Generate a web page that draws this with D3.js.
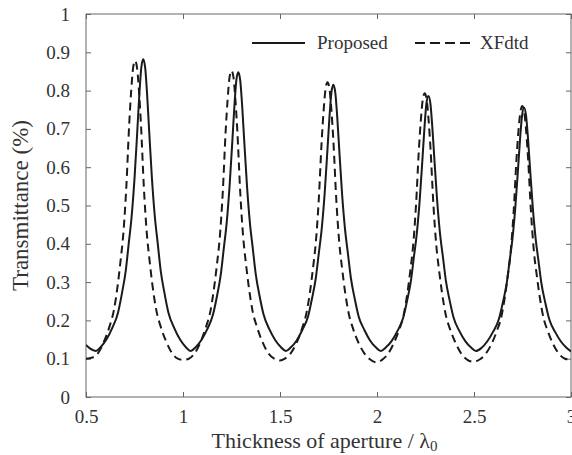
<!DOCTYPE html>
<html>
<head>
<meta charset="utf-8">
<script src="https://cdn.jsdelivr.net/npm/d3@7"></script>
<style>
  html, body { margin: 0; padding: 0; background: #fff; }
  svg { display: block; }
  text { font-family: "Liberation Serif", "DejaVu Serif", serif; fill: #333; }
</style>
</head>
<body>
<div id="chart"></div>
<script>
const xTicks = [0.5, 1, 1.5, 2, 2.5, 3];
const xTickLabels = ["0.5", "1", "1.5", "2", "2.5", "3"];
const yTicks = [0, 0.1, 0.2, 0.3, 0.4, 0.5, 0.6, 0.7, 0.8, 0.9, 1];
const yTickLabels = ["0", "0.1", "0.2", "0.3", "0.4", "0.5", "0.6", "0.7", "0.8", "0.9", "1"];
const seriesNames = ["Proposed", "XFdtd"];

const proposed = [
  [0.50,0.136],[0.52,0.127],[0.55,0.120],
  [0.575,0.130],[0.605,0.150],[0.635,0.180],[0.665,0.220],[0.685,0.270],[0.705,0.330],[0.720,0.400],[0.735,0.470],[0.750,0.570],[0.765,0.700],[0.775,0.790],[0.785,0.860],[0.795,0.882],
  [0.805,0.860],[0.815,0.790],[0.825,0.700],[0.840,0.570],[0.855,0.470],[0.870,0.400],[0.885,0.330],[0.905,0.270],[0.925,0.220],[0.955,0.180],[0.985,0.150],[1.015,0.130],[1.040,0.120],
  [1.065,0.130],[1.095,0.149],[1.125,0.177],[1.155,0.216],[1.175,0.263],[1.195,0.321],[1.210,0.387],[1.225,0.454],[1.240,0.550],[1.255,0.674],[1.265,0.760],[1.275,0.827],[1.285,0.848],
  [1.295,0.827],[1.305,0.760],[1.315,0.674],[1.330,0.550],[1.345,0.454],[1.360,0.387],[1.375,0.321],[1.395,0.263],[1.415,0.216],[1.445,0.177],[1.475,0.149],[1.505,0.130],[1.530,0.120],
  [1.555,0.129],[1.585,0.147],[1.615,0.175],[1.645,0.211],[1.665,0.257],[1.685,0.312],[1.700,0.375],[1.715,0.439],[1.730,0.530],[1.745,0.649],[1.755,0.731],[1.765,0.795],[1.775,0.815],
  [1.785,0.795],[1.795,0.731],[1.805,0.649],[1.820,0.530],[1.835,0.439],[1.850,0.375],[1.865,0.312],[1.885,0.257],[1.905,0.211],[1.935,0.175],[1.965,0.147],[1.995,0.129],[2.020,0.120],
  [2.045,0.129],[2.075,0.146],[2.105,0.172],[2.135,0.207],[2.155,0.251],[2.175,0.304],[2.190,0.365],[2.205,0.426],[2.220,0.513],[2.235,0.627],[2.245,0.706],[2.255,0.767],[2.265,0.786],
  [2.275,0.767],[2.285,0.706],[2.295,0.627],[2.310,0.513],[2.325,0.426],[2.340,0.365],[2.355,0.304],[2.375,0.251],[2.395,0.207],[2.425,0.172],[2.455,0.146],[2.485,0.129],[2.510,0.120],
  [2.538,0.128],[2.568,0.145],[2.598,0.170],[2.628,0.203],[2.648,0.245],[2.668,0.295],[2.683,0.353],[2.698,0.412],[2.713,0.495],[2.728,0.603],[2.738,0.678],[2.748,0.736],[2.758,0.755],
  [2.768,0.736],[2.778,0.678],[2.788,0.603],[2.803,0.495],[2.818,0.412],[2.833,0.353],[2.848,0.295],[2.868,0.245],[2.888,0.203],[2.918,0.170],[2.948,0.145],[2.978,0.128],[3.000,0.119]
];

const xfdtd = [
  [0.500,0.100],[0.533,0.103],[0.563,0.115],[0.593,0.145],[0.623,0.187],[0.643,0.225],[0.663,0.290],[0.678,0.355],[0.693,0.430],[0.708,0.550],[0.723,0.715],[0.733,0.800],[0.743,0.860],[0.753,0.878],
  [0.763,0.860],[0.773,0.800],[0.783,0.715],[0.798,0.550],[0.813,0.430],[0.828,0.355],[0.843,0.290],[0.863,0.225],[0.883,0.187],[0.913,0.145],[0.943,0.115],[0.973,0.100],[0.998,0.097],
  [1.030,0.100],[1.060,0.114],[1.090,0.143],[1.120,0.185],[1.140,0.221],[1.160,0.284],[1.175,0.346],[1.190,0.419],[1.205,0.535],[1.220,0.695],[1.230,0.777],[1.240,0.835],[1.250,0.852],
  [1.260,0.835],[1.270,0.777],[1.280,0.695],[1.295,0.535],[1.310,0.419],[1.325,0.346],[1.340,0.284],[1.360,0.221],[1.380,0.185],[1.410,0.143],[1.440,0.114],[1.470,0.100],[1.500,0.095],
  [1.525,0.100],[1.555,0.114],[1.585,0.141],[1.615,0.181],[1.635,0.216],[1.655,0.276],[1.670,0.336],[1.685,0.406],[1.700,0.517],[1.715,0.670],[1.725,0.749],[1.735,0.805],[1.745,0.822],
  [1.755,0.805],[1.765,0.749],[1.775,0.670],[1.790,0.517],[1.805,0.406],[1.820,0.336],[1.835,0.276],[1.855,0.216],[1.875,0.181],[1.905,0.141],[1.935,0.114],[1.965,0.098],[2.000,0.090],
  [2.026,0.097],[2.056,0.112],[2.086,0.140],[2.116,0.178],[2.136,0.211],[2.156,0.269],[2.171,0.327],[2.186,0.394],[2.201,0.500],[2.216,0.647],[2.226,0.723],[2.236,0.777],[2.246,0.793],
  [2.256,0.777],[2.266,0.723],[2.276,0.647],[2.291,0.500],[2.306,0.394],[2.321,0.327],[2.336,0.269],[2.356,0.211],[2.376,0.178],[2.406,0.140],[2.436,0.112],[2.466,0.097],[2.497,0.092],
  [2.529,0.098],[2.559,0.112],[2.589,0.137],[2.619,0.174],[2.639,0.205],[2.659,0.261],[2.674,0.316],[2.689,0.379],[2.704,0.481],[2.719,0.621],[2.729,0.694],[2.739,0.744],[2.749,0.760],
  [2.759,0.744],[2.769,0.694],[2.779,0.621],[2.794,0.481],[2.809,0.379],[2.824,0.316],[2.839,0.261],[2.859,0.205],[2.879,0.174],[2.909,0.137],[2.939,0.112],[2.969,0.100],[3.000,0.097]
];

const W = 572, H = 455;
const m = { left: 86, right: 1, top: 14, bottom: 58 };
const svg = d3.select("#chart").append("svg").attr("width", W).attr("height", H);

const x = d3.scaleLinear().domain([0.5, 3]).range([m.left, W - m.right]);
const y = d3.scaleLinear().domain([0, 1]).range([H - m.bottom, m.top]);

const axisColor = "#666";
const tickLen = 5;

// frame
svg.append("rect")
  .attr("x", x(0.5)).attr("y", y(1))
  .attr("width", x(3) - x(0.5)).attr("height", y(0) - y(1))
  .attr("fill", "none").attr("stroke", axisColor).attr("stroke-width", 1);

// axes via d3 axis generators (inward ticks)
const xAxisB = d3.axisBottom(x).tickValues(xTicks).tickSize(-tickLen).tickPadding(13)
  .tickFormat((d, i) => xTickLabels[i]);
const gx = svg.append("g").attr("transform", `translate(0,${y(0)})`).call(xAxisB);
const xAxisT = d3.axisTop(x).tickValues(xTicks).tickSize(-tickLen).tickFormat("");
const gxt = svg.append("g").attr("transform", `translate(0,${y(1)})`).call(xAxisT);
const yAxisL = d3.axisLeft(y).tickValues(yTicks).tickSize(-tickLen).tickPadding(16)
  .tickFormat((d, i) => yTickLabels[i]);
const gy = svg.append("g").attr("transform", `translate(${x(0.5)},0)`).call(yAxisL);
const yAxisR = d3.axisRight(y).tickValues(yTicks).tickSize(-tickLen).tickFormat("");
const gyr = svg.append("g").attr("transform", `translate(${x(3)},0)`).call(yAxisR);

[gx, gxt, gy, gyr].forEach(g => {
  g.attr("font-family", null).attr("font-size", null);
  g.select(".domain").remove();
  g.selectAll(".tick line").attr("stroke", axisColor);
  g.selectAll(".tick text")
    .style("font-family", "'Liberation Serif', 'DejaVu Serif', serif")
    .attr("font-size", 19).attr("fill", "#333");
});

// clip
svg.append("clipPath").attr("id", "plotclip").append("rect")
  .attr("x", x(0.5)).attr("y", y(1)).attr("width", x(3) - x(0.5)).attr("height", y(0) - y(1));

const line = d3.line().x(d => x(d[0])).y(d => y(d[1])).curve(d3.curveMonotoneX);

const plot = svg.append("g").attr("clip-path", "url(#plotclip)");
plot.append("path").datum(xfdtd).attr("d", line)
  .attr("fill", "none").attr("stroke", "#1a1a1a").attr("stroke-width", 2)
  .attr("stroke-dasharray", "8,5");
plot.append("path").datum(proposed).attr("d", line)
  .attr("fill", "none").attr("stroke", "#1a1a1a").attr("stroke-width", 2);

// axis titles
svg.append("text")
  .attr("x", (x(0.5) + x(3)) / 2 - 4).attr("y", 448)
  .attr("text-anchor", "middle").attr("font-size", 22)
  .html('Thickness of aperture / λ<tspan font-size="15" dy="3">0</tspan>');
svg.append("text")
  .attr("transform", `translate(28,${(y(0) + y(1)) / 2}) rotate(-90)`)
  .attr("text-anchor", "middle").attr("font-size", 23)
  .text("Transmittance (%)");

// legend
const leg = svg.append("g");
leg.append("line").attr("x1", 252).attr("x2", 305).attr("y1", 43).attr("y2", 43)
  .attr("stroke", "#1a1a1a").attr("stroke-width", 2);
leg.append("text").attr("x", 317).attr("y", 49).attr("font-size", 19).text(seriesNames[0]);
leg.append("line").attr("x1", 415).attr("x2", 470).attr("y1", 43).attr("y2", 43)
  .attr("stroke", "#1a1a1a").attr("stroke-width", 2).attr("stroke-dasharray", "10,5");
leg.append("text").attr("x", 480).attr("y", 49).attr("font-size", 19).text(seriesNames[1]);
</script>
</body>
</html>
